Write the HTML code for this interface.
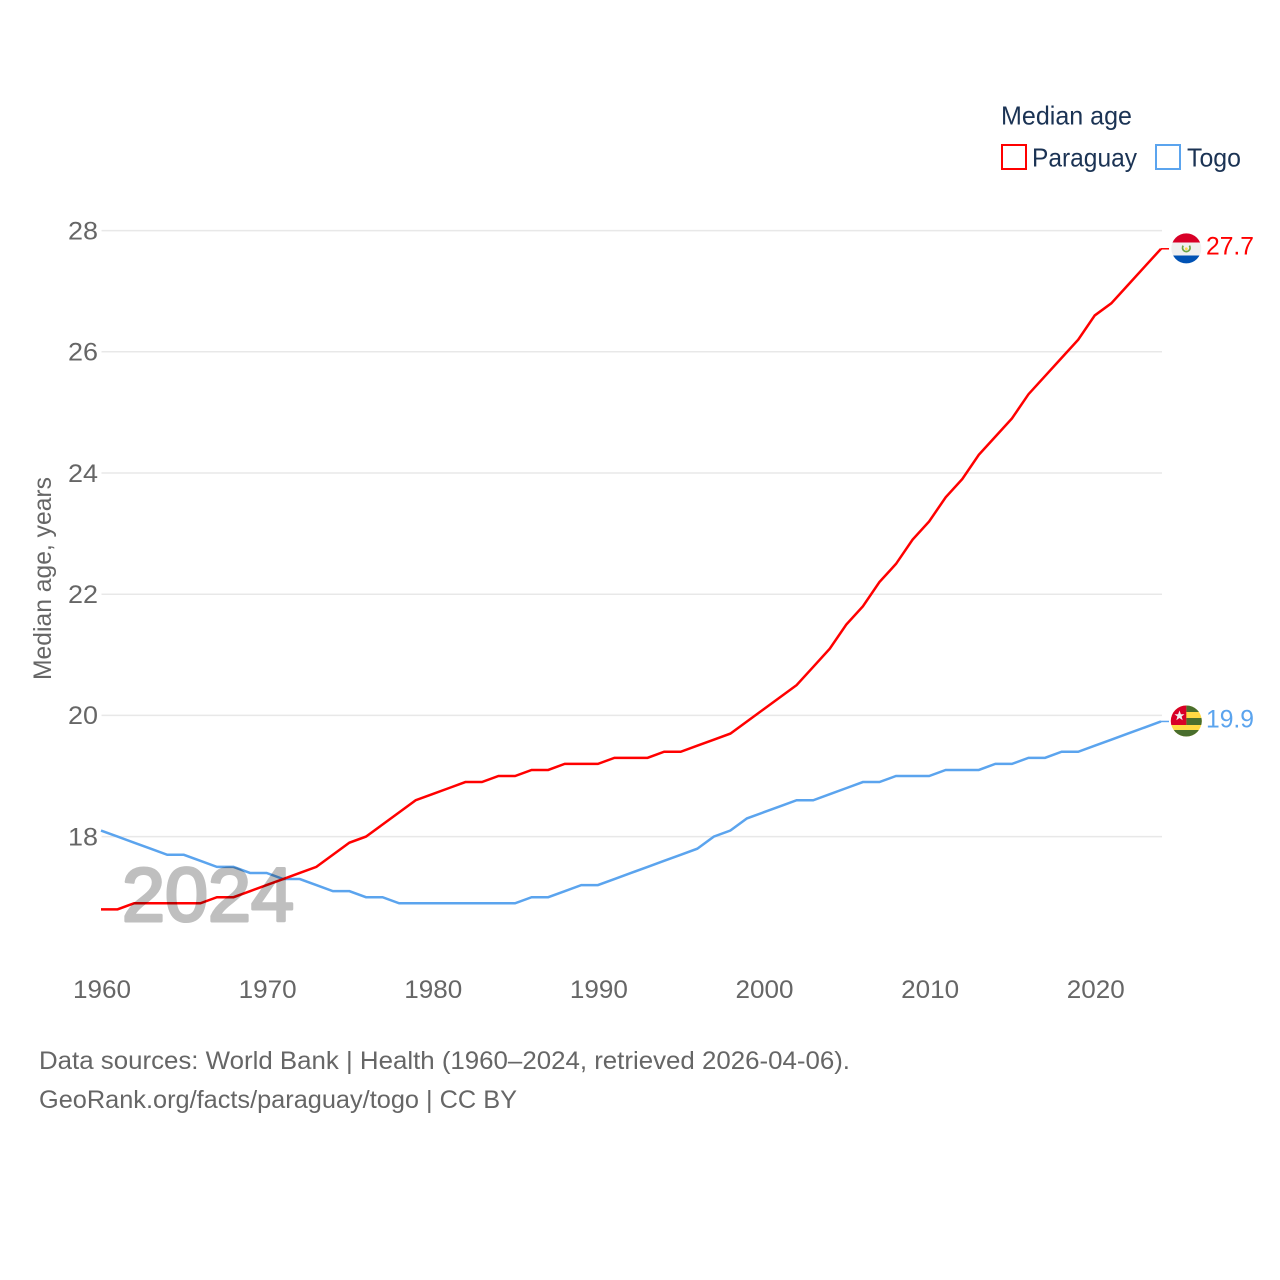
<!DOCTYPE html>
<html lang="en">
<head>
<meta charset="utf-8">
<title>Median age: Paraguay and Togo</title>
<style>
html,body{margin:0;padding:0;background:#fff;}
svg{display:block;font-family:"Liberation Sans",sans-serif;}
</style>
</head>
<body>
<svg id="chart" xmlns="http://www.w3.org/2000/svg" width="1280" height="1280" viewBox="0 0 1280 1280">
  <defs>
    <clipPath id="py-clip"><circle cx="1186.3" cy="248.4" r="15"></circle></clipPath>
    <clipPath id="tg-clip"><circle cx="1186.3" cy="721" r="15.5"></circle></clipPath>
  </defs>
  <g id="grid"></g>
  <g id="yticks" font-size="25" fill="#666"></g>
  <g id="xticks" font-size="25" fill="#666"></g>
  <text transform="translate(51,680) rotate(-90)" font-size="25" fill="#666" textLength="203" lengthAdjust="spacingAndGlyphs">Median age, years</text>
  <g id="series"></g>
  <text x="122" y="921.2" font-size="76" fill="#bfbfbf" stroke="#bfbfbf" stroke-width="3" stroke-linejoin="round" textLength="172" lengthAdjust="spacingAndGlyphs" style="mix-blend-mode:multiply">2024</text>

  <g>
    <text x="1001" y="124.5" font-size="26" fill="#1b3354" textLength="131" lengthAdjust="spacingAndGlyphs">Median age</text>
    <rect x="1002" y="145" width="24" height="24" fill="none" stroke="#ff0000" stroke-width="2"></rect>
    <text x="1032" y="166.5" font-size="26" fill="#1b3354" textLength="105" lengthAdjust="spacingAndGlyphs">Paraguay</text>
    <rect x="1156" y="145" width="24" height="24" fill="none" stroke="#5ba4ee" stroke-width="2"></rect>
    <text x="1187" y="166.5" font-size="26" fill="#1b3354" textLength="54" lengthAdjust="spacingAndGlyphs">Togo</text>
  </g>

  <g clip-path="url(#py-clip)">
    <rect x="1170" y="232" width="33" height="10.5" fill="#d80027"></rect>
    <rect x="1170" y="242.5" width="33" height="13" fill="#f0f0f0"></rect>
    <rect x="1170" y="255.5" width="33" height="10" fill="#0052b4"></rect>
    <path d="M1183.2 245.6 A3.8 3.8 0 1 0 1189.4 245.6" fill="none" stroke="#6da544" stroke-width="1.7"></path>
    <circle cx="1186.3" cy="248.8" r="1.4" fill="#ffda44"></circle>
  </g>
  <g clip-path="url(#tg-clip)">
    <rect x="1170" y="705" width="33" height="33" fill="#ffda44"></rect>
    <rect x="1186.3" y="705" width="17" height="7" fill="#496e2d"></rect>
    <rect x="1186.3" y="718" width="17" height="7" fill="#496e2d"></rect>
    <rect x="1170" y="730" width="33" height="8" fill="#496e2d"></rect>
    <rect x="1170" y="705" width="16.3" height="20" fill="#d80027"></rect>
    <polygon points="1179.5,710.5 1180.9,714.2 1184.5,714.2 1181.6,716.5 1182.7,720.2 1179.5,718 1176.3,720.2 1177.4,716.5 1174.5,714.2 1178.1,714.2" fill="#f0f0f0"></polygon>
  </g>
  <text x="1206" y="254.5" font-size="25" fill="#ff0000" textLength="48" lengthAdjust="spacingAndGlyphs">27.7</text>
  <text x="1206" y="727.5" font-size="25" fill="#5ba4ee" textLength="48" lengthAdjust="spacingAndGlyphs">19.9</text>

  <text x="39" y="1069" font-size="25" fill="#666" textLength="811" lengthAdjust="spacingAndGlyphs">Data sources: World Bank | Health (1960–2024, retrieved 2026-04-06).</text>
  <text x="39" y="1108" font-size="25" fill="#666" textLength="478" lengthAdjust="spacingAndGlyphs">GeoRank.org/facts/paraguay/togo | CC BY</text>
</svg>
<script>
const startYear = 1960;
const endYear = 2024;
const yTickLabels = [18, 20, 22, 24, 26, 28];
const xTickLabels = [1960, 1970, 1980, 1990, 2000, 2010, 2020];
const paraguayValues = [16.8,16.8,16.9,16.9,16.9,16.9,16.9,17.0,17.0,17.1,17.2,17.3,17.4,17.5,17.7,17.9,18.0,18.2,18.4,18.6,18.7,18.8,18.9,18.9,19.0,19.0,19.1,19.1,19.2,19.2,19.2,19.3,19.3,19.3,19.4,19.4,19.5,19.6,19.7,19.9,20.1,20.3,20.5,20.8,21.1,21.5,21.8,22.2,22.5,22.9,23.2,23.6,23.9,24.3,24.6,24.9,25.3,25.6,25.9,26.2,26.6,26.8,27.1,27.4,27.7];
const togoValues = [18.1,18.0,17.9,17.8,17.7,17.7,17.6,17.5,17.5,17.4,17.4,17.3,17.3,17.2,17.1,17.1,17.0,17.0,16.9,16.9,16.9,16.9,16.9,16.9,16.9,16.9,17.0,17.0,17.1,17.2,17.2,17.3,17.4,17.5,17.6,17.7,17.8,18.0,18.1,18.3,18.4,18.5,18.6,18.6,18.7,18.8,18.9,18.9,19.0,19.0,19.0,19.1,19.1,19.1,19.2,19.2,19.3,19.3,19.4,19.4,19.5,19.6,19.7,19.8,19.9];

const NS = 'http://www.w3.org/2000/svg';
function xScale(year) { return 101 + (year - startYear) * (1161 - 101) / (endYear - startYear); }
function yScale(value) { return 836.6 - (value - 18) * 60.6; }

const grid = document.getElementById('grid');
const yticks = document.getElementById('yticks');
const xticks = document.getElementById('xticks');
const series = document.getElementById('series');

yTickLabels.forEach(function (v) {
  const line = document.createElementNS(NS, 'line');
  
  
  line.setAttribute('x1', 101.5);
  line.setAttribute('x2', 1162);
  line.setAttribute('y1', yScale(v));
  line.setAttribute('y2', yScale(v));
  line.setAttribute('stroke', '#e8e8e8');
  line.setAttribute('stroke-width', '1.5');
  grid.appendChild(line);

  const t = document.createElementNS(NS, 'text');
  
  
  t.setAttribute('x', 68);
  t.setAttribute('y', yScale(v) + 8.8);
  t.setAttribute('textLength', 30);
  t.setAttribute('lengthAdjust', 'spacingAndGlyphs');
  t.textContent = String(v);
  yticks.appendChild(t);
});

xTickLabels.forEach(function (y) {
  const t = document.createElementNS(NS, 'text');
  
  
  t.setAttribute('x', xScale(y) - 28);
  t.setAttribute('y', 998);
  t.setAttribute('textLength', 58);
  t.setAttribute('lengthAdjust', 'spacingAndGlyphs');
  t.textContent = String(y);
  xticks.appendChild(t);
});

function linePoints(values) {
  return values.map(function (v, i) {
    return xScale(startYear + i).toFixed(2) + ',' + yScale(v).toFixed(2);
  }).join(' ');
}

const togoLine = document.createElementNS(NS, 'polyline');


togoLine.setAttribute('points', linePoints(togoValues));
togoLine.setAttribute('fill', 'none');
togoLine.setAttribute('stroke', '#5ba4ee');
togoLine.setAttribute('stroke-width', '2.5');
series.appendChild(togoLine);

const togoStub = document.createElementNS(NS, 'line');


togoStub.setAttribute('x1', xScale(endYear));
togoStub.setAttribute('x2', xScale(endYear) + 8);
togoStub.setAttribute('y1', yScale(togoValues[togoValues.length - 1]));
togoStub.setAttribute('y2', yScale(togoValues[togoValues.length - 1]));
togoStub.setAttribute('stroke', '#5ba4ee');
togoStub.setAttribute('stroke-width', '1.5');
series.appendChild(togoStub);

const paraguayLine = document.createElementNS(NS, 'polyline');


paraguayLine.setAttribute('points', linePoints(paraguayValues));
paraguayLine.setAttribute('fill', 'none');
paraguayLine.setAttribute('stroke', '#ff0000');
paraguayLine.setAttribute('stroke-width', '2.5');
series.appendChild(paraguayLine);

const paraguayStub = document.createElementNS(NS, 'line');


paraguayStub.setAttribute('x1', xScale(endYear));
paraguayStub.setAttribute('x2', xScale(endYear) + 8);
paraguayStub.setAttribute('y1', yScale(paraguayValues[paraguayValues.length - 1]));
paraguayStub.setAttribute('y2', yScale(paraguayValues[paraguayValues.length - 1]));
paraguayStub.setAttribute('stroke', '#ff0000');
paraguayStub.setAttribute('stroke-width', '1.5');
series.appendChild(paraguayStub);
</script>
</body>
</html>
